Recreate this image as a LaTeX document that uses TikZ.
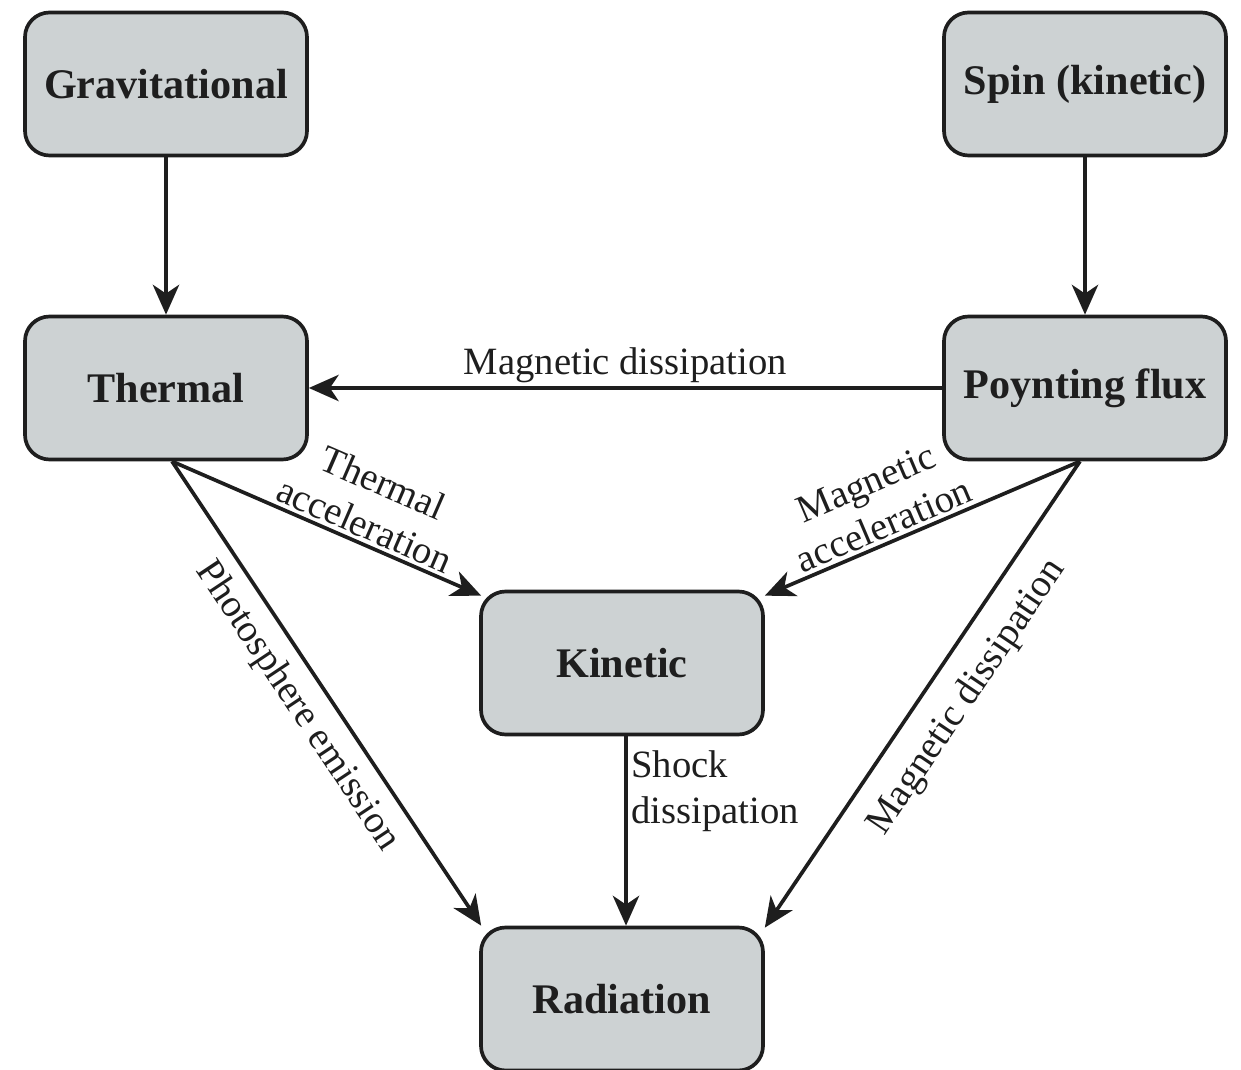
\documentclass[tikz,border=0pt]{standalone}
\usepackage{fontspec}
\setmainfont{Liberation Serif}
\usetikzlibrary{arrows.meta,calc}
\definecolor{boxfill}{HTML}{CDD2D3}
\definecolor{ink}{HTML}{1E1E1E}
\tikzset{
  energy/.style={draw=ink, fill=boxfill, line width=2.1pt, rounded corners=14pt,
    minimum width=282*0.02cm, minimum height=143*0.02cm, inner sep=0pt,
    font=\fontsize{24}{28}\selectfont\bfseries, text=ink},
  flow/.style={draw=ink, line width=2.1pt,
    -{Stealth[length=17pt,width=15pt,inset=5pt]}},
  lbl/.style={font=\fontsize{22}{26}\selectfont, text=ink, inner sep=2pt}
}
\begin{document}
\begin{tikzpicture}[x=0.02cm,y=-0.02cm]
\path[use as bounding box] (0,0) rectangle (1241,1070);

% energy reservoirs
\node[energy] (grav) at (166,84)  {Gravitational};
\node[energy] (spin) at (1085,84) {Spin (kinetic)};
\node[energy] (therm) at (166,388) {Thermal};
\node[energy] (poyn) at (1085,388) {Poynting flux};
\node[energy] (kin) at (622,663) {Kinetic};
\node[energy] (rad) at (622,999) {Radiation};

% attachment points on the box borders
\coordinate (thS) at ($(therm.south)+(6,0)$);
\coordinate (poS) at ($(poyn.south)+(-5,0)$);
\coordinate (kiS) at ($(kin.south)+(4,0)$);
\coordinate (kiNW) at ($(kin.north west)+(2,6)$);
\coordinate (kiNE) at ($(kin.north east)+(0,6)$);
\coordinate (raN) at ($(rad.north)+(4,0)$);
\coordinate (raNW) at ($(rad.north west)+(2,0)$);
\coordinate (raNE) at ($(rad.north east)+(0,2)$);

% conversion channels
\draw[flow] (grav.south) -- (therm.north);
\draw[flow] (spin.south) -- (poyn.north);
\draw[flow] (poyn.west) -- node[lbl, above, pos=0.5] {Magnetic dissipation} (therm.east);
\draw[flow] (thS) -- node[lbl, sloped, above, pos=0.6, align=center] {Thermal\\acceleration} (kiNW);
\draw[flow] (poS) -- node[lbl, sloped, above, pos=0.6, align=center] {Magnetic\\acceleration} (kiNE);
\draw[flow] (thS) -- node[lbl, sloped, below=5pt, pos=0.49] {Photosphere emission} (raNW);
\draw[flow] (poS) -- node[lbl, sloped, below=9pt, pos=0.46] {Magnetic dissipation} (raNE);
\draw[flow] (kiS) -- node[lbl, right, pos=0.29, align=left] {Shock\\dissipation} (raN);
\end{tikzpicture}
\end{document}
